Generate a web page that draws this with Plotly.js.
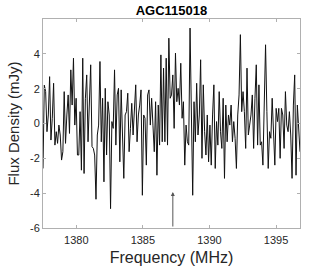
<!DOCTYPE html>
<html><head><meta charset="utf-8">
<script src="https://cdn.plot.ly/plotly-3.0.1.min.js"></script>
<style>html,body{margin:0;padding:0;background:#fff}#c{width:332px;height:266px}</style>
</head><body><div id="c"></div>
<script>
const chartTitle = "AGC115018";
const xTitle = "Frequency (MHz)";
const yTitle = "Flux Density (mJy)";
const freqStart = 1377.5;
const freqEnd = 1396.8;
const flux = [
-2.58,2.2,1.83,-0.47,0.49,2.69,-0.95,0.3,2.31,-1.24,-0.47,-1.14,-0.09,-0.66,-2.1,-1.62,1.83,-1.14,0.49,1.64,-0.57,3.08,1.06,3.75,-0.09,1.45,-1.81,-1.81,0.68,-2.68,3.75,-2.87,1.45,2.79,-1.05,0.68,3.37,-1.33,-1.43,-1.81,-4.35,-0.66,-0.09,3.56,-1.05,1.45,-3.35,2.02,-1.81,
1.25,0.49,-4.89,0.11,-0.28,3.08,-1.24,1.64,2.02,-2.2,1.93,-0.47,-3.15,0.49,0.68,1.74,-1.62,-0.28,1.16,-0.66,1.06,2.22,-1.05,0.49,1.06,1.93,-4.12,0.49,0.3,-2.39,1.64,1.93,-0.09,1.45,-0.09,-1.62,1.25,-2.97,1.06,-1.24,3.94,-1.05,3.18,-1.05,3.75,-1.24,4.9,1.45,
1.64,2.79,-0.28,4.04,1.25,2.02,1.06,3.46,0.3,1.25,-2.39,-0.09,-1.05,-1.24,5.48,0.3,-4.12,1.25,-1.05,2.31,-0.66,0.49,3.66,-2.0,2.22,-0.47,-1.81,0.49,-2.2,-0.09,-2.39,0.49,2.22,-2.58,0.11,-1.24,1.83,-0.47,-1.43,1.45,-3.15,1.06,-1.05,0.49,-0.09,1.06,-1.05,0.11,-0.85,-2.58,
0.49,1.64,5.1,0.68,1.83,0.68,-1.43,3.18,-0.66,-0.09,0.49,1.64,-1.43,1.45,3.37,-1.24,2.22,-1.24,-1.05,-2.39,1.45,4.52,0.68,-2.58,-0.47,-0.85,1.45,-0.47,-2.39,0.87,0.11,0.87,-2.0,0.87,0.49,-1.43,1.83,-0.09,-0.47,0.68,-0.66,-3.15,1.06,2.79,-2.97,1.06,-0.47,-1.62
];
const xTicks = [1380,1385,1390,1395];
const yTicks = [-6,-4,-2,0,2,4];
const arrowFreq = 1387.25;
const arrowTip = -3.93;

const step = (freqEnd - freqStart) / (flux.length - 1);
const freq = flux.map((_, i) => freqStart + i * step);

const FONT = 'Liberation Sans, Arial, Helvetica, sans-serif';
const axisCommon = {
  showline: true, linecolor: '#b0b0b0', linewidth: 1, mirror: 'ticks',
  ticks: 'inside', ticklen: 3, tickcolor: '#b0b0b0', tickwidth: 1,
  showgrid: false, zeroline: false,
  tickfont: {family: FONT, size: 11, color: '#262626'}
};

Plotly.newPlot('c', [{
  x: freq, y: flux, type: 'scatter', mode: 'lines',
  line: {color: '#111', width: 1}, hoverinfo: 'skip'
}], {
  width: 332, height: 266,
  margin: {l: 43, r: 32, t: 19, b: 38},
  paper_bgcolor: '#fff', plot_bgcolor: '#fff',
  showlegend: false,
  title: {text: '<b>' + chartTitle + '</b>', x: 0.5, xanchor: 'center', xref: 'paper',
          y: 0.96, yanchor: 'middle', yref: 'container',
          font: {family: FONT, size: 13, color: '#000'}},
  xaxis: Object.assign({}, axisCommon, {
    range: [freqStart, freqEnd], tickvals: xTicks, ticktext: xTicks.map(String),
    ticklabelstandoff: 2,
    title: {text: xTitle, standoff: 6,
            font: {family: FONT, size: 16, color: '#262626'}}
  }),
  yaxis: Object.assign({}, axisCommon, {
    range: [-6, 6], tickvals: yTicks, ticktext: yTicks.map(String),
    title: {text: yTitle, standoff: 6,
            font: {family: FONT, size: 15, color: '#262626'}}
  }),
  annotations: [{
    x: arrowFreq, y: arrowTip, xref: 'x', yref: 'y',
    ax: arrowFreq, ay: -6, axref: 'x', ayref: 'y',
    showarrow: true, arrowhead: 2, arrowsize: 0.8, arrowwidth: 1, arrowcolor: '#555', text: ''
  }]
}, {staticPlot: true, displayModeBar: false});
</script></body></html>
